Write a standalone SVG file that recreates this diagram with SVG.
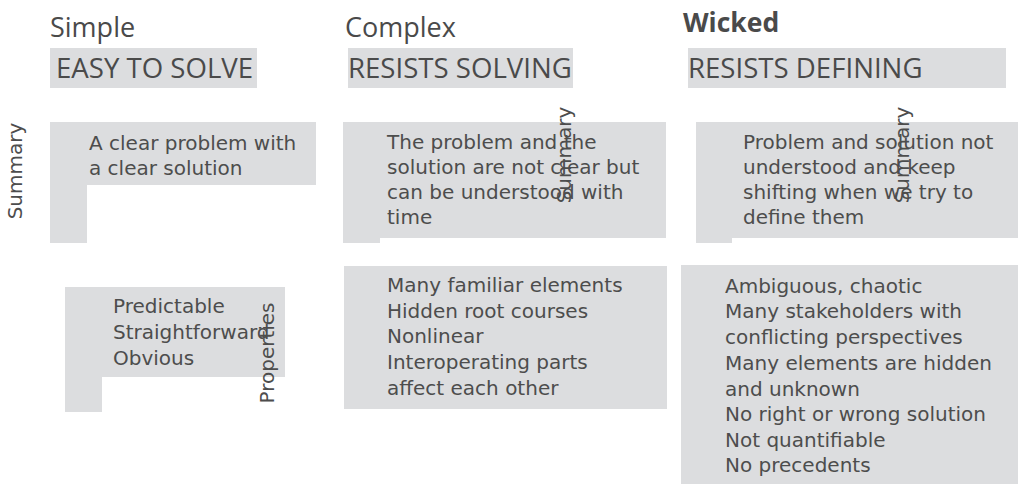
<svg xmlns="http://www.w3.org/2000/svg" width="1018" height="484" viewBox="0 0 1018 484">
  <style>
    .box { fill: #dcdddf; }
    .title { font-family: "Open Sans", "Liberation Sans", sans-serif; font-size: 27px; fill: #4a4a4a; }
    .bold { font-weight: bold; font-size: 26.5px; }
    .band { font-family: "Open Sans", "Liberation Sans", sans-serif; font-size: 27.6px; fill: #4a4a4a; }
    .body { font-family: "DejaVu Sans", Verdana, sans-serif; font-size: 20px; fill: #4d4d4d; }
    .rot { font-family: "DejaVu Sans", Verdana, sans-serif; font-size: 20px; fill: #4d4d4d; text-anchor: middle; }
  </style>
  <rect width="1018" height="484" fill="#ffffff"/>

  <g id="col-simple">
    <text class="title" x="50" y="37">Simple</text>
    <g id="band-simple">
      <rect class="box" x="50" y="48" width="207" height="40"/>
      <text class="band" x="56" y="78">EASY TO SOLVE</text>
    </g>
  </g>
  <g id="col-complex">
    <text class="title" x="345" y="37">Complex</text>
    <g id="band-complex">
      <rect class="box" x="348" y="48" width="225" height="40"/>
      <text class="band" x="348" y="78">RESISTS SOLVING</text>
    </g>
  </g>
  <g id="col-wicked">
    <text class="title bold" x="683" y="32">Wicked</text>
    <g id="band-wicked">
      <rect class="box" x="688" y="48" width="318" height="40"/>
      <text class="band" x="688" y="78">RESISTS DEFINING</text>
    </g>
  </g>

  <g id="summary-simple">
    <path class="box" d="M50 122 H316 V185 H87 V243 H50 Z"/>
    <text class="body" x="89" y="150">A clear problem with</text>
    <text class="body" x="89" y="175">a clear solution</text>
  </g>
  <g id="summary-complex">
    <path class="box" d="M343 122 H666 V238 H380 V243 H343 Z"/>
    <text class="body" x="387" y="149">The problem and the</text>
    <text class="body" x="387" y="174">solution are not clear but</text>
    <text class="body" x="387" y="199">can be understood with</text>
    <text class="body" x="387" y="224">time</text>
  </g>
  <g id="summary-wicked">
    <path class="box" d="M696 122 H1018 V238 H732 V243 H696 Z"/>
    <text class="body" x="743" y="149">Problem and solution not</text>
    <text class="body" x="743" y="174">understood and keep</text>
    <text class="body" x="743" y="199">shifting when we try to</text>
    <text class="body" x="743" y="224">define them</text>
  </g>

  <g id="properties-simple">
    <path class="box" d="M65 287 H285 V377 H102 V412 H65 Z"/>
    <text class="body" x="113" y="313">Predictable</text>
    <text class="body" x="113" y="339">Straightforward</text>
    <text class="body" x="113" y="365">Obvious</text>
  </g>
  <g id="properties-complex">
    <rect class="box" x="344" y="266" width="323" height="143"/>
    <text class="body" x="387" y="292">Many familiar elements</text>
    <text class="body" x="387" y="318">Hidden root courses</text>
    <text class="body" x="387" y="343">Nonlinear</text>
    <text class="body" x="387" y="369">Interoperating parts</text>
    <text class="body" x="387" y="395">affect each other</text>
  </g>
  <g id="properties-wicked">
    <rect class="box" x="681" y="265" width="337" height="219"/>
    <text class="body" x="725" y="293">Ambiguous, chaotic</text>
    <text class="body" x="725" y="318">Many stakeholders with</text>
    <text class="body" x="725" y="344">conflicting perspectives</text>
    <text class="body" x="725" y="370">Many elements are hidden</text>
    <text class="body" x="725" y="396">and unknown</text>
    <text class="body" x="725" y="421">No right or wrong solution</text>
    <text class="body" x="725" y="447">Not quantifiable</text>
    <text class="body" x="725" y="472">No precedents</text>
  </g>

  <g id="labels">
    <text class="rot" transform="translate(22,171) rotate(-90)">Summary</text>
    <text class="rot" transform="translate(571,155) rotate(-90)">Summary</text>
    <text class="rot" transform="translate(909,155) rotate(-90)">Summary</text>
    <text class="rot" transform="translate(274,353) rotate(-90)">Properties</text>
  </g>
  <g id="connectors"/>
</svg>
